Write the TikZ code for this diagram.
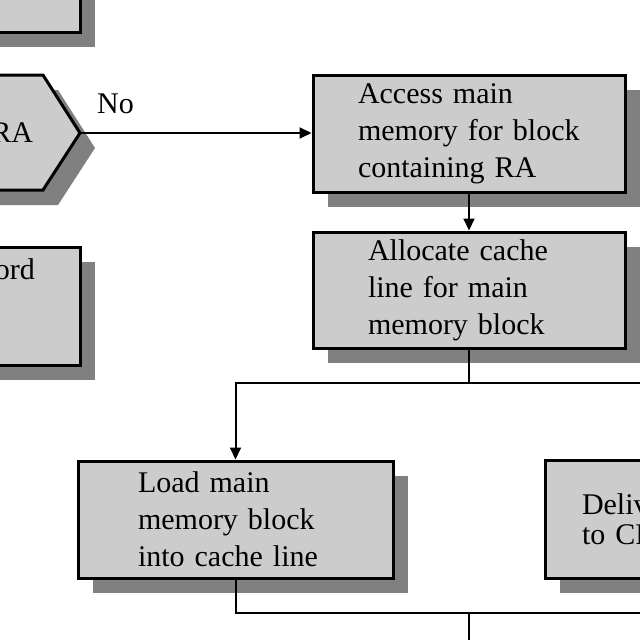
\documentclass[tikz,border=0pt]{standalone}
\usepackage{fontspec}
\setmainfont{Liberation Serif}
\usetikzlibrary{arrows.meta,shadows}
\definecolor{boxfill}{RGB}{204,204,204}
\definecolor{shadowgray}{RGB}{128,128,128}
\tikzset{
  proc/.style={draw=black, line width=3pt, fill=boxfill, rectangle, inner ysep=0pt,
    align=left, font=\fontsize{30}{37}\selectfont,
    drop shadow={shadow xshift=15pt, shadow yshift=-15pt, fill=shadowgray, opacity=1}},
  conn/.style={line width=2pt, draw=black},
  arr/.style={conn, -{Triangle[width=11pt,length=12pt]}},
  lbl/.style={font=\fontsize{30}{37}\selectfont, inner sep=0pt}
}
\begin{document}
\begin{tikzpicture}[x=1pt,y=-1pt]
\useasboundingbox (0,0) rectangle (640,640);
\clip (0,0) rectangle (640,640);
\fill[white] (0,0) rectangle (640,640);

% top box (cropped)
\node[proc, minimum width=330pt, minimum height=120pt] (recv) at (-85,-28) {};

% decision hexagon (cropped)
\fill[shadowgray, shift={(15,15)}] (80,133) -- (43,75) -- (-153,75) -- (-190,133) -- (-153,190) -- (43,190) -- cycle;
\filldraw[fill=boxfill, draw=black, line width=3pt, line join=miter] (80,133) -- (43,75) -- (-153,75) -- (-190,133) -- (-153,190) -- (43,190) -- cycle;
\node[lbl, align=center] (dec) at (-55,132.5) {Is block\\containing RA\\in cache?};
\coordinate (dectip) at (80,133);
\node[lbl, anchor=base west] (no) at (97,113) {No};

% fetch box (cropped)
\node[proc, minimum width=280pt, minimum height=118pt, text width=190pt, inner xsep=45pt] (fetch) at (-60,306) {Fetch RA word\\and deliver\\to CPU};

% right column
\node[proc, minimum width=312pt, minimum height=117pt, text width=222pt, inner xsep=45pt] (access) at (469,133.5) {Access main\\memory for block\\containing RA};
\node[proc, minimum width=312pt, minimum height=116pt, text width=202pt, inner xsep=55pt] (alloc) at (469,290) {Allocate cache\\line for main\\memory block};
\node[proc, minimum width=315pt, minimum height=117pt, text width=195pt, inner xsep=60pt] (load) at (235.5,519.5) {Load main\\memory block\\into cache line};
\node[proc, minimum width=315pt, minimum height=118pt, text width=241pt, inner xsep=37pt, font=\fontsize{30}{30}\selectfont] (deliver) at (702.5,519) {Deliver RA word\\to CPU};

% connectors
\draw[arr] (dectip) -- (dectip -| access.west);
\draw[arr] (access.south) -- (alloc.north);
\coordinate (split) at (469,383);
\draw[conn] (alloc.south) -- (split);
\draw[arr] (split) -| (load.north);
\draw[arr] (split) -| (deliver.north);
\coordinate (merge) at (469,613);
\draw[conn] (load.south) |- (merge);
\draw[conn] (deliver.south) |- (merge);
\coordinate (done) at (469,700);
\draw[arr] (merge) -- (done);
\end{tikzpicture}
\end{document}
